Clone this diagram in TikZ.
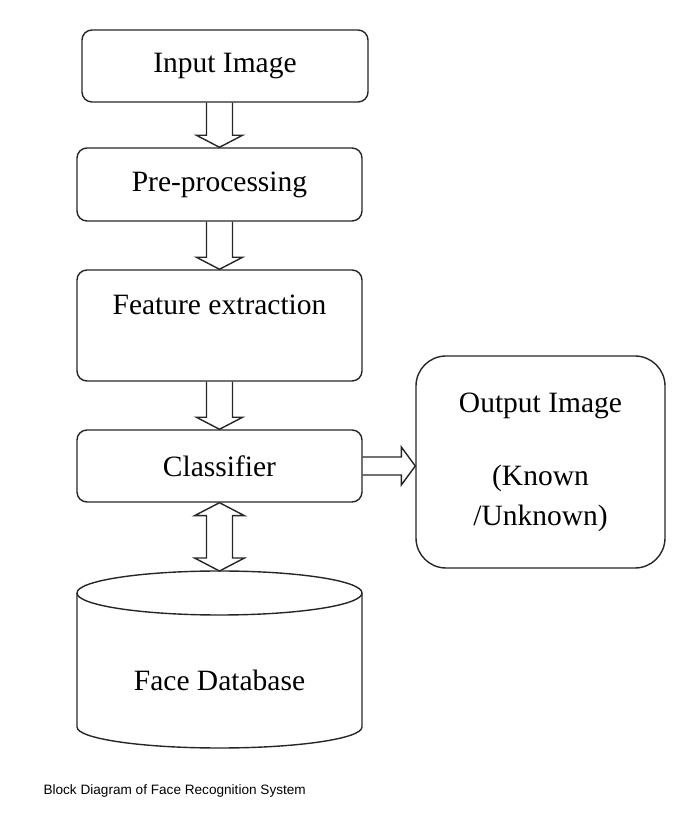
\documentclass[tikz,border=0pt]{standalone}
\usepackage{fontspec}
\setmainfont{Liberation Serif}
\newfontfamily\captionfont{Liberation Sans}
\usetikzlibrary{calc}

\tikzset{
  block/.style={draw=black!85, line width=1.4pt, rounded corners=10pt,
    minimum width=285pt, minimum height=72pt, inner sep=0pt,
    font=\fontsize{29.5}{34}\selectfont},
  hollow/.style={draw=black!85, line width=1.4pt, line join=miter},
}

\begin{document}
\begin{tikzpicture}[x=1pt, y=1pt]
\useasboundingbox (0,0) rectangle (683,819);

\node[block, minimum width=286pt] (input) at (225,753) {Input Image};
\node[block, minimum height=73pt] (pre) at (219.5,634.5) {Pre-processing};
\node[block, minimum height=111pt, text height=20pt, text depth=42pt] (feat) at (219.5,493.5) {Feature extraction};
\node[block] (cls) at (219.5,353) {Classifier};
\node[block, minimum width=249pt, minimum height=212pt, rounded corners=30pt,
  align=center, font=\fontsize{29.5}{40}\selectfont] (out) at (540.5,357)
  {Output Image\\[33pt](Known\\/Unknown)};

\coordinate (dbtop) at (219.5,248);
\draw[hollow] (77,226) -- (77,92)
  arc[start angle=180, end angle=360, x radius=142.5, y radius=21] -- (362,226);
\draw[hollow] (219.5,226) ellipse[x radius=142.5, y radius=22];
\node[font=\fontsize{29.5}{34}\selectfont] (db) at (219.5,139) {Face Database};

\foreach \a/\b in {input/pre, pre/feat, feat/cls} {
  \draw[hollow] let \p1=(\a.south), \p2=(\b.north) in
    (\x2-13pt,\y1) -- (\x2-13pt,\y2+12pt) -- (\x2-23pt,\y2+12pt) -- (\x2,\y2)
    -- (\x2+23pt,\y2+12pt) -- (\x2+13pt,\y2+12pt) -- (\x2+13pt,\y1);
}

\draw[hollow] let \p1=(cls.south), \p2=(dbtop) in
  (\x1-13pt,\y1-13pt) -- (\x1-25pt,\y1-13pt) -- (\x1,\y1) -- (\x1+25pt,\y1-13pt)
  -- (\x1+13pt,\y1-13pt) -- (\x1+13pt,\y2+13pt) -- (\x1+25pt,\y2+13pt) -- (\x1,\y2)
  -- (\x1-25pt,\y2+13pt) -- (\x1-13pt,\y2+13pt) -- cycle;

\draw[hollow] let \p1=(cls.east), \p2=(out.west) in
  (\x1,\y1+9pt) -- (\x2-14pt,\y1+9pt) -- (\x2-14pt,\y1+19pt) -- (\x2,\y1)
  -- (\x2-14pt,\y1-19pt) -- (\x2-14pt,\y1-9pt) -- (\x1,\y1-9pt);

\node[anchor=west, font=\captionfont\fontsize{13.6}{16}\selectfont] (caption) at (40,28)
  {Block Diagram of Face Recognition System};
\end{tikzpicture}
\end{document}
